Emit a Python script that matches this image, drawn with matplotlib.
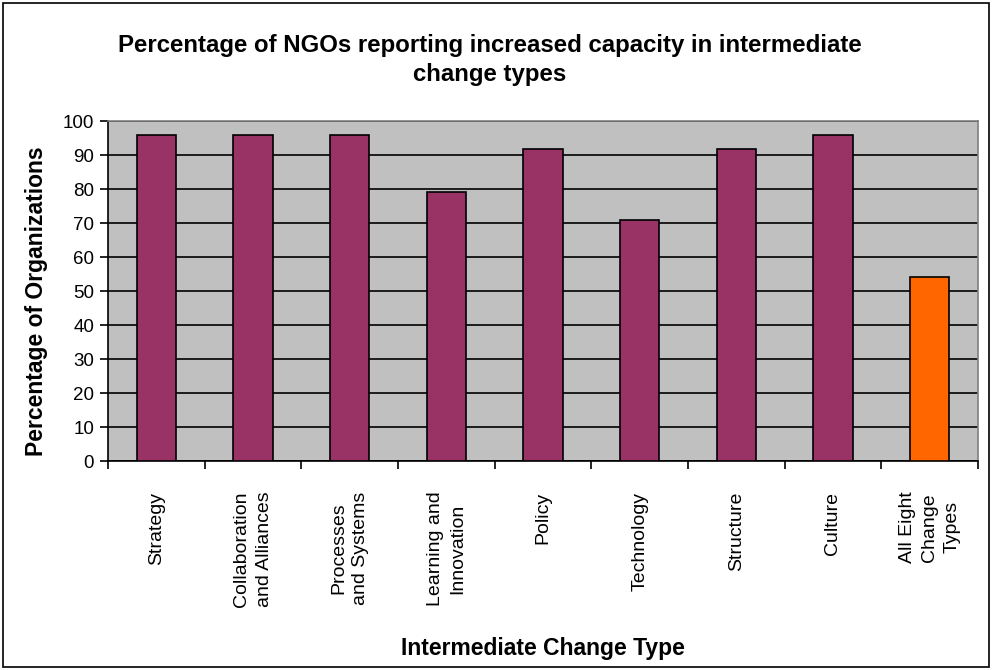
import numpy as np
import matplotlib.pyplot as plt
from matplotlib.patches import Rectangle

plt.rcParams['font.family'] = ['Liberation Sans', 'DejaVu Sans']

# Данные
categories = ['Strategy', 'Collaboration\nand Alliances', 'Processes\nand Systems',
              'Learning and\nInnovation', 'Policy', 'Technology', 'Structure',
              'Culture', 'All Eight\nChange\nTypes']
values = [95.8, 95.8, 95.8, 79.2, 91.7, 70.8, 91.7, 95.8, 54.2]
colors = ['#993366'] * 8 + ['#FF6600']

fig = plt.figure(figsize=(9.93, 6.7), dpi=100)
ax = fig.add_axes([108/993, 1 - 461/670, (978 - 108)/993, (461 - 121)/670])
ax.set_facecolor('#C0C0C0')

x = np.arange(len(categories))
ax.bar(x, values, width=0.41, color=colors, edgecolor='black', linewidth=1.2, zorder=3)

ax.set_xlim(-0.5, len(categories) - 0.5)
ax.set_ylim(0, 100)
ax.set_yticks(np.arange(0, 101, 10))
ax.yaxis.grid(True, color='black', linewidth=1.2, zorder=1)
ax.set_axisbelow(True)
ax.tick_params(axis='y', labelsize=13.5, length=6, width=1.2, direction='out', pad=4)

# Подписи категорий, засечки между столбцами
ax.set_xticks(x)
ax.set_xticklabels(categories, rotation=90, va='top', ha='center',
                   multialignment='center', fontsize=14, linespacing=1.4)
ax.tick_params(axis='x', which='major', length=0, pad=22)
ax.set_xticks(np.arange(-0.5, len(categories)), minor=True)
ax.tick_params(axis='x', which='minor', length=6, width=1.2, direction='out')

for side in ['top', 'right']:
    ax.spines[side].set_color('#808080')
    ax.spines[side].set_linewidth(1.2)
for side in ['left', 'bottom']:
    ax.spines[side].set_color('black')
    ax.spines[side].set_linewidth(1.2)

ax.set_ylabel('Percentage of Organizations', fontsize=16.5, fontweight='bold')
ax.yaxis.set_label_coords(-0.069, 0.47)
fig.text(0.493, 1 - 60/670, 'Percentage of NGOs reporting increased capacity in intermediate\nchange types',
         ha='center', va='center', fontsize=17.3, fontweight='bold', linespacing=1.35)
fig.text(543/993, 1 - 648/670, 'Intermediate Change Type', ha='center', va='center',
         fontsize=16.5, fontweight='bold')

# Рамка вокруг диаграммы
fig.patches.append(Rectangle((3/993, 3/670), 986/993, 664/670, transform=fig.transFigure,
                             fill=False, edgecolor='black', linewidth=1.2))

fig.savefig('out.png', dpi=100)
